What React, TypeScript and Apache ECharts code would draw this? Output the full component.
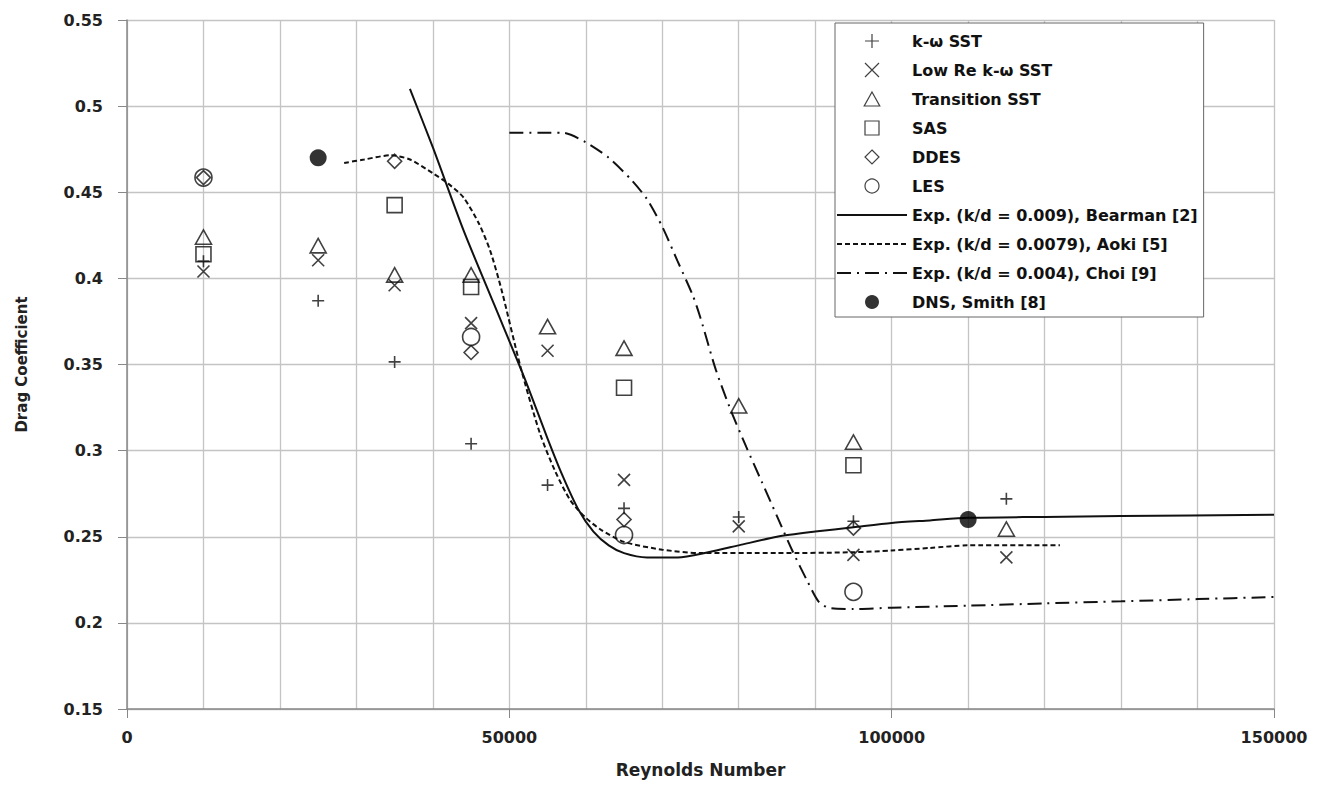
import React, { useEffect, useRef } from "react";
import * as echarts from "echarts";

// ---- data (Reynolds number, drag coefficient) ----
const kwSST: [number, number][] = [
  [10000, 0.41], [25000, 0.387], [35000, 0.3515], [45000, 0.304], [55000, 0.28],
  [65000, 0.2665], [80000, 0.2615], [95000, 0.259], [115000, 0.272],
];
const lowReKwSST: [number, number][] = [
  [10000, 0.404], [25000, 0.4105], [35000, 0.396], [45000, 0.374], [55000, 0.358],
  [65000, 0.283], [80000, 0.256], [95000, 0.2395], [115000, 0.238],
];
const transitionSST: [number, number][] = [
  [10000, 0.424], [25000, 0.419], [35000, 0.402], [45000, 0.402], [55000, 0.372],
  [65000, 0.3595], [80000, 0.326], [95000, 0.305], [115000, 0.2545],
];
const sas: [number, number][] = [
  [10000, 0.414], [35000, 0.4425], [45000, 0.395], [65000, 0.3365], [95000, 0.2915],
];
const ddes: [number, number][] = [
  [10000, 0.4585], [35000, 0.468], [45000, 0.357], [65000, 0.26], [95000, 0.255],
];
const les: [number, number][] = [
  [10000, 0.4585], [45000, 0.366], [65000, 0.251], [95000, 0.218],
];
const dnsSmith: [number, number][] = [
  [25000, 0.47], [110000, 0.26],
];
const bearman: [number, number][] = [
  [37000, 0.51], [40000, 0.476], [44000, 0.428], [48000, 0.385], [52000, 0.342],
  [55000, 0.307], [57000, 0.285], [59000, 0.266], [61000, 0.253], [63000, 0.245],
  [65000, 0.2405], [68000, 0.238], [72000, 0.238], [76000, 0.241], [80000, 0.245],
  [85000, 0.25], [90000, 0.253], [95000, 0.2555], [100000, 0.258], [105000, 0.2595],
  [110000, 0.261], [120000, 0.2615], [130000, 0.262], [150000, 0.2628],
];
const aoki: [number, number][] = [
  [28400, 0.467], [31000, 0.469], [34500, 0.4715], [37000, 0.469], [40000, 0.461],
  [42000, 0.455], [44000, 0.447], [46000, 0.432], [47500, 0.416], [49000, 0.393],
  [51500, 0.348], [54000, 0.31], [56000, 0.288], [58000, 0.271], [60000, 0.261],
  [62000, 0.254], [65000, 0.247], [70000, 0.2425], [75000, 0.2405], [85000, 0.2405],
  [95000, 0.241], [100000, 0.242], [105000, 0.2435], [110000, 0.245], [122000, 0.245],
];
const choi: [number, number][] = [
  [50000, 0.4845], [54000, 0.4845], [57000, 0.4845], [60000, 0.479], [63000, 0.47],
  [66000, 0.457], [68000, 0.446], [70000, 0.43], [72000, 0.41], [74000, 0.39],
  [75000, 0.377], [77000, 0.347], [79000, 0.323], [81000, 0.302], [83000, 0.282],
  [85000, 0.262], [87000, 0.242], [89000, 0.224], [90500, 0.212], [92000, 0.2085],
  [95000, 0.208], [100000, 0.2088], [110000, 0.21], [120000, 0.2113], [130000, 0.2125],
  [140000, 0.2138], [150000, 0.215],
];

const seriesNames = [
  "k-ω SST",
  "Low Re k-ω SST",
  "Transition SST",
  "SAS",
  "DDES",
  "LES",
  "Exp. (k/d = 0.009), Bearman [2]",
  "Exp. (k/d = 0.0079), Aoki [5]",
  "Exp. (k/d = 0.004), Choi [9]",
  "DNS, Smith [8]",
];
const lineNames = new Set([seriesNames[6], seriesNames[7], seriesNames[8]]);

const PLUS = "path://M5,0L5,10M0,5L10,5";
const CROSS = "path://M0,0L10,10M10,0L0,10";
const TRIANGLE = "path://M5,0L10,9L0,9Z";
const SQUARE = "path://M0,0L10,0L10,10L0,10Z";
const DIAMOND = "path://M5,0L10,5L5,10L0,5Z";

const hollow = { color: "transparent", borderColor: "#111", borderWidth: 1.6 };

export default function App() {
  const ref = useRef<HTMLDivElement>(null);
  useEffect(() => {
    if (!ref.current) return;
    const chart = echarts.init(ref.current, undefined, { renderer: "svg" });
    const scatter = (name: string, data: [number, number][], symbol: string, size: number, z = 3) => ({
      name,
      type: "scatter",
      data,
      symbol,
      symbolSize: size,
      symbolKeepAspect: true,
      itemStyle: hollow,
      z,
    });
    const line = (name: string, data: [number, number][], dash: any) => ({
      name,
      type: "line",
      data,
      symbol: "none",
      smooth: 0.25,
      lineStyle: { color: "#111", width: 2, type: dash },
      itemStyle: { color: "#111" },
      z: 2,
    });
    chart.setOption({
      animation: false,
      backgroundColor: "#fff",
      textStyle: { fontFamily: "DejaVu Sans" },
      grid: { left: 127, right: 51, top: 20, bottom: 76 },
      legend: {
        orient: "vertical",
        left: 835,
        top: 23,
        padding: [10, 6, 7, 1],
        backgroundColor: "#fff",
        borderColor: "#666",
        borderWidth: 1,
        itemWidth: 70,
        itemHeight: 14,
        itemGap: 13,
        data: seriesNames.map((n) =>
          lineNames.has(n)
            ? { name: n, itemStyle: { color: "transparent", borderColor: "transparent", borderWidth: 0, opacity: 0 } }
            : { name: n }
        ),
        itemStyle: { borderWidth: 1.2 },
        textStyle: { fontFamily: "DejaVu Sans", fontWeight: "bold", fontSize: 16, color: "#111" },
      },
      xAxis: {
        type: "value",
        min: 0,
        max: 150000,
        interval: 50000,
        name: "Reynolds Number",
        nameLocation: "middle",
        nameGap: 52,
        nameTextStyle: { fontFamily: "DejaVu Sans", fontWeight: "bold", fontSize: 17, color: "#222" },
        axisLine: { show: true, lineStyle: { color: "#888", width: 1.5 } },
        axisTick: { show: true, length: 9, lineStyle: { color: "#888" } },
        axisLabel: {
          margin: 20,
          fontFamily: "DejaVu Sans",
          fontWeight: "bold",
          fontSize: 16,
          color: "#222",
          formatter: (v: number) => String(v),
        },
        splitLine: { show: true, lineStyle: { color: "#c4c4c4", width: 1.3 } },
        minorTick: { show: false, splitNumber: 5 },
        minorSplitLine: { show: true, lineStyle: { color: "#c4c4c4", width: 1.3 } },
      },
      yAxis: {
        type: "value",
        min: 0.15,
        max: 0.55,
        interval: 0.05,
        name: "Drag Coefficient",
        nameLocation: "middle",
        nameGap: 98,
        nameTextStyle: { fontFamily: "DejaVu Sans", fontWeight: "bold", fontSize: 15, color: "#222" },
        axisLine: { show: true, lineStyle: { color: "#888", width: 1.5 } },
        axisTick: { show: true, length: 9, lineStyle: { color: "#888" } },
        axisLabel: {
          margin: 24,
          fontFamily: "DejaVu Sans",
          fontWeight: "bold",
          fontSize: 16,
          color: "#222",
          formatter: (v: number) => String(+v.toFixed(2)),
        },
        splitLine: { show: true, lineStyle: { color: "#c4c4c4", width: 1.3 } },
      },
      series: [
        scatter(seriesNames[0], kwSST, PLUS, 12, 5),
        scatter(seriesNames[1], lowReKwSST, CROSS, 12, 5),
        scatter(seriesNames[2], transitionSST, TRIANGLE, 16, 4),
        scatter(seriesNames[3], sas, SQUARE, 15, 4),
        scatter(seriesNames[4], ddes, DIAMOND, 14, 4),
        scatter(seriesNames[5], les, "circle", 17, 4),
        line(seriesNames[6], bearman, "solid"),
        line(seriesNames[7], aoki, [5, 3]),
        line(seriesNames[8], choi, [14, 6, 2, 6]),
        {
          name: seriesNames[9],
          type: "scatter",
          data: dnsSmith,
          symbol: "circle",
          symbolSize: 17,
          itemStyle: { color: "#000" },
          z: 6,
        },
      ],
    });
    return () => chart.dispose();
  }, []);
  return (
    <div
      ref={ref}
      style={{ position: "absolute", left: 0, top: 0, width: 1325, height: 785 }}
    />
  );
}
